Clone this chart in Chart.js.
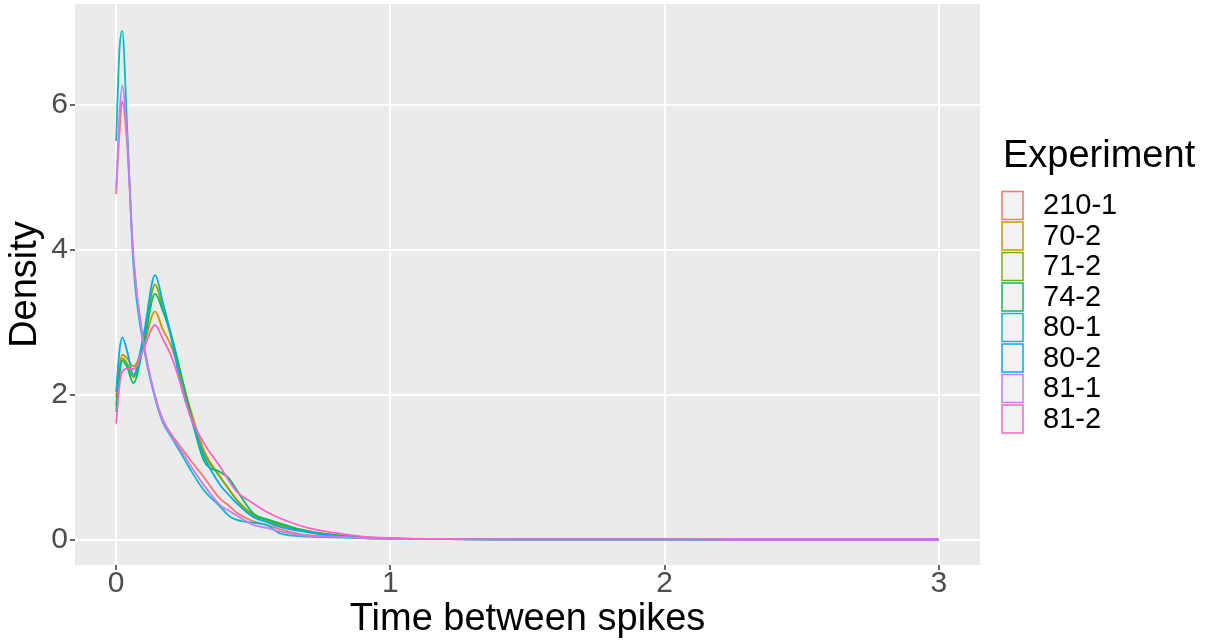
<!DOCTYPE html>
<html>
<head>
<meta charset="utf-8">
<title>Time between spikes</title>
<script src="https://cdn.jsdelivr.net/npm/chart.js@4.4.0/dist/chart.umd.min.js"></script>
<style>
  html, body { margin: 0; padding: 0; background: #ffffff; }
  canvas { display: block; }
</style>
</head>
<body>
<canvas id="density-chart" width="1212" height="644"></canvas>
<script>
// series names and their ggplot hue colours
const experiments = ['210-1', '70-2', '71-2', '74-2', '80-1', '80-2', '81-1', '81-2'];
const colors = ['#F8766D', '#CD9600', '#7CAE00', '#00BE67', '#00BFC4', '#00A9FF', '#C77CFF', '#FF61CC'];

const timeValues = [0, 0.012, 0.022, 0.04, 0.063, 0.1, 0.142, 0.17, 0.2, 0.235, 0.27, 0.32, 0.38, 0.41, 0.44, 0.5, 0.55, 0.6, 0.7, 0.8, 0.9, 1.0, 1.2, 1.5, 2.0, 2.5, 3.0];

// density values per experiment (same length as timeValues)
const density210_1 = [4.77, 5.6, 6.05, 5.45, 3.9, 2.72, 1.98, 1.66, 1.46, 1.28, 1.1, 0.86, 0.56, 0.47, 0.37, 0.25, 0.2, 0.14, 0.06, 0.05, 0.02, 0.01, 0.004, 0.002, 0.001, 0, 0];
const density70_2 = [1.96, 2.38, 2.55, 2.5, 2.39, 2.68, 3.15, 2.9, 2.68, 2.27, 1.81, 1.23, 0.86, 0.7, 0.55, 0.34, 0.27, 0.2, 0.12, 0.06, 0.03, 0.015, 0.005, 0.002, 0.001, 0, 0];
const density71_2 = [1.85, 2.32, 2.5, 2.43, 2.24, 2.72, 3.52, 3.19, 2.8, 2.2, 1.74, 1.19, 0.86, 0.7, 0.54, 0.33, 0.26, 0.19, 0.11, 0.06, 0.03, 0.015, 0.005, 0.002, 0.001, 0, 0];
const density74_2 = [1.76, 2.27, 2.47, 2.38, 2.16, 2.68, 3.39, 3.16, 2.84, 2.31, 1.76, 1.09, 0.93, 0.85, 0.68, 0.36, 0.28, 0.22, 0.11, 0.06, 0.03, 0.015, 0.005, 0.002, 0.001, 0, 0];
const density80_1 = [5.5, 6.75, 7.02, 5.7, 3.8, 2.68, 1.95, 1.62, 1.42, 1.2, 0.97, 0.68, 0.45, 0.33, 0.27, 0.23, 0.2, 0.08, 0.04, 0.03, 0.02, 0.01, 0.004, 0.002, 0.001, 0, 0];
const density80_2 = [2.04, 2.6, 2.79, 2.6, 2.27, 2.82, 3.65, 3.28, 2.82, 2.15, 1.71, 1.15, 0.75, 0.62, 0.5, 0.31, 0.24, 0.17, 0.1, 0.05, 0.02, 0.01, 0.004, 0.002, 0.001, 0, 0];
const density81_1 = [4.84, 5.85, 6.27, 5.55, 3.9, 2.72, 1.97, 1.64, 1.44, 1.24, 1.03, 0.75, 0.47, 0.4, 0.33, 0.2, 0.16, 0.11, 0.05, 0.04, 0.02, 0.01, 0.004, 0.002, 0.001, 0, 0];
const density81_2 = [1.6, 2.12, 2.32, 2.36, 2.35, 2.63, 2.96, 2.77, 2.54, 2.15, 1.71, 1.33, 1.0, 0.82, 0.66, 0.5, 0.38, 0.29, 0.16, 0.09, 0.04, 0.02, 0.006, 0.002, 0.001, 0, 0];

const densities = [density210_1, density70_2, density71_2, density74_2, density80_1, density80_2, density81_1, density81_2];

// grid / tick values (majors get labels)
const xGridValues = [0, 0.5, 1, 1.5, 2, 2.5, 3];
const yGridValues = [0, 1, 2, 3, 4, 5, 6, 7];

const legendTitle = 'Experiment';
const fontFamily = '"Liberation Sans", Arial, Helvetica, sans-serif';
Chart.defaults.font.family = fontFamily;

// grey panel like ggplot's theme_gray
const panelBackground = {
    id: 'panelBackground',
    beforeDraw(chart) {
        const { ctx, chartArea: a } = chart;
        ctx.save();
        ctx.fillStyle = '#FFFFFF';
        ctx.fillRect(0, 0, chart.width, chart.height);
        ctx.fillStyle = '#EBEBEB';
        ctx.fillRect(a.left, a.top, a.right - a.left, a.bottom - a.top);
        ctx.restore();
    }
};

// legend drawn as ggplot does: title on top, grey keys with coloured outline
const experimentLegend = {
    id: 'experimentLegend',
    afterDraw(chart) {
        const { ctx, chartArea: a } = chart;
        const mid = (a.top + a.bottom) / 2;
        const x0 = a.right + 22;
        ctx.save();
        ctx.fillStyle = '#000000';
        ctx.textAlign = 'left';
        ctx.textBaseline = 'alphabetic';
        ctx.font = '38px ' + fontFamily;
        ctx.fillText(legendTitle, x0 + 1, mid - 118);

        ctx.font = '29px ' + fontFamily;
        ctx.textBaseline = 'middle';
        chart.data.datasets.forEach((ds, i) => {
            const top = mid - 93 + i * 30.5;
            ctx.fillStyle = '#F2F2F2';
            ctx.fillRect(x0, top, 21, 28);
            ctx.strokeStyle = ds.borderColor;
            ctx.lineWidth = 1.5;
            ctx.strokeRect(x0, top, 21, 28);
            ctx.fillStyle = '#000000';
            ctx.fillText(ds.label, x0 + 41, top + 14.5);
        });
        ctx.restore();
    }
};

const datasets = experiments.map((name, i) => ({
    label: name,
    data: timeValues.map((t, j) => ({ x: t, y: densities[i][j] })),
    borderColor: colors[i],
    backgroundColor: colors[i],
    borderWidth: 1.8,
    pointRadius: 0,
    fill: false,
    cubicInterpolationMode: 'monotone',
    order: experiments.length - i // last experiment drawn on top
}));

new Chart(document.getElementById('density-chart'), {
    type: 'line',
    data: { datasets: datasets },
    options: {
        responsive: false,
        animation: false,
        devicePixelRatio: 1,
        layout: { padding: { top: 4, right: 232, left: 0, bottom: 0 } },
        plugins: {
            legend: { display: false },
            tooltip: { enabled: false }
        },
        scales: {
            x: {
                type: 'linear',
                min: -0.15,
                max: 3.15,
                afterBuildTicks: (axis) => { axis.ticks = xGridValues.map(v => ({ value: v })); },
                afterFit: (axis) => {
                    axis.height = 79;
                    axis.paddingLeft = 0;
                    axis.paddingRight = 0;
                },
                border: { display: false },
                grid: {
                    color: '#FFFFFF',
                    lineWidth: (c) => Number.isInteger(c.tick.value) ? 2 : 1,
                    tickLength: 5,
                    tickWidth: 1.5,
                    tickColor: (c) => Number.isInteger(c.tick.value) ? '#333333' : 'rgba(0,0,0,0)'
                },
                ticks: {
                    autoSkip: false,
                    maxRotation: 0,
                    padding: -4,
                    color: '#4D4D4D',
                    font: { size: 30 },
                    callback: (v) => Number.isInteger(v) ? String(v) : null
                },
                title: {
                    display: true,
                    text: 'Time between spikes',
                    color: '#000000',
                    font: { size: 38, lineHeight: 1.2 },
                    padding: { top: 0, bottom: 2 }
                }
            },
            y: {
                type: 'linear',
                min: -0.352,
                max: 7.392,
                afterBuildTicks: (axis) => { axis.ticks = yGridValues.map(v => ({ value: v })); },
                afterFit: (axis) => {
                    axis.width = 75;
                    axis.paddingTop = 0;
                    axis.paddingBottom = 0;
                },
                border: { display: false },
                grid: {
                    color: '#FFFFFF',
                    lineWidth: (c) => c.tick.value % 2 === 0 ? 2 : 1,
                    tickLength: 5,
                    tickWidth: 1.5,
                    tickColor: (c) => c.tick.value % 2 === 0 ? '#333333' : 'rgba(0,0,0,0)'
                },
                ticks: {
                    autoSkip: false,
                    padding: 2,
                    color: '#4D4D4D',
                    font: { size: 30 },
                    callback: (v) => v % 2 === 0 ? String(v) : null
                },
                title: {
                    display: true,
                    text: 'Density',
                    color: '#000000',
                    font: { size: 38, lineHeight: 1.2 },
                    padding: { top: 2.5, bottom: 0 }
                }
            }
        }
    },
    plugins: [panelBackground, experimentLegend]
});
</script>
</body>
</html>
